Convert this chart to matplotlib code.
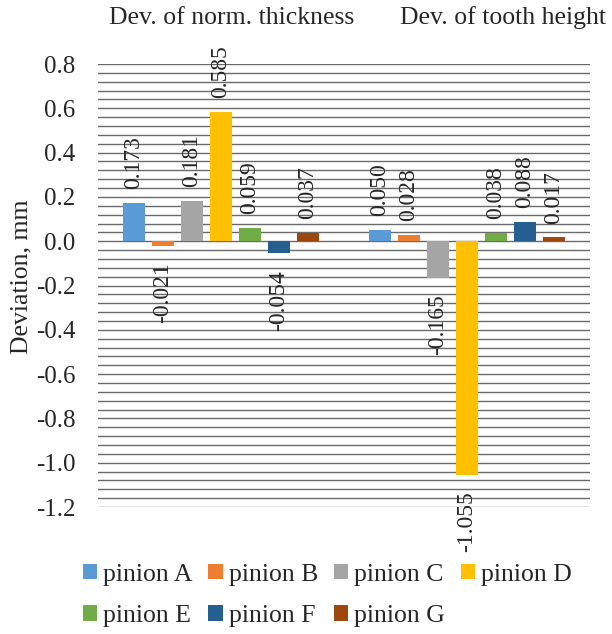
import matplotlib
matplotlib.use("Agg")
import matplotlib.pyplot as plt
import matplotlib.transforms as mtransforms
import numpy as np

categories = ["Dev. of norm. thickness", "Dev. of tooth height"]
series = ["pinion A", "pinion B", "pinion C", "pinion D", "pinion E", "pinion F", "pinion G"]
values = {
    "pinion A": [0.173, 0.050],
    "pinion B": [-0.021, 0.028],
    "pinion C": [0.181, -0.165],
    "pinion D": [0.585, -1.055],
    "pinion E": [0.059, 0.038],
    "pinion F": [-0.054, 0.088],
    "pinion G": [0.037, 0.017],
}
label_texts = {
    "pinion A": ["0.173", "0.050"],
    "pinion B": ["-0.021", "0.028"],
    "pinion C": ["0.181", "-0.165"],
    "pinion D": ["0.585", "-1.055"],
    "pinion E": ["0.059", "0.038"],
    "pinion F": ["-0.054", "0.088"],
    "pinion G": ["0.037", "0.017"],
}
colors = ["#5B9BD5", "#ED7D31", "#A5A5A5", "#FFC000", "#70AD47", "#255E91", "#9E480E"]
yticks = [0.8, 0.6, 0.4, 0.2, 0.0, -0.2, -0.4, -0.6, -0.8, -1.0, -1.2]
ytick_labels = ["0.8", "0.6", "0.4", "0.2", "0.0", "-0.2", "-0.4", "-0.6", "-0.8", "-1.0", "-1.2"]

FONT = "Liberation Serif"
plt.rcParams["font.family"] = [FONT, "DejaVu Serif"]

fig = plt.figure(figsize=(6.12, 6.34), dpi=100)
ax = fig.add_axes([0.160, 0.2003, 0.804, 0.6987])

x = np.arange(len(categories))
pitch = 0.118
width = 0.091
n = len(series)
handles = []
for i, (s, c) in enumerate(zip(series, colors)):
    xs = x + (i - (n - 1) / 2) * pitch
    vals = values[s]
    b = ax.bar(xs, vals, width=width, color=c, zorder=3, label=s)
    handles.append(b)
    for xi, v, t in zip(xs, vals, label_texts[s]):
        off = 10 if v >= 0 else -12
        ax.annotate(t, (xi, v), xytext=(0, off), textcoords="offset points",
                    rotation=90, ha="center", va="bottom" if v >= 0 else "top",
                    fontsize=17, color="#262626", zorder=4)

ax.set_xlim(-0.5, 1.5)
ax.set_ylim(-1.2, 0.8)
for g in np.arange(-1.2, 0.8001, 0.04):
    ax.axhline(g, color="#6a6a6a", lw=1.0, zorder=1)

ax.set_yticks(yticks)
ax.set_yticklabels(ytick_labels)
ax.tick_params(axis="y", length=0, pad=16, labelsize=18, labelcolor="#262626")
ax.set_xticks([])
for sp in ax.spines.values():
    sp.set_visible(False)

ax.set_ylabel("Deviation, mm", fontsize=18.5, color="#262626")
ax.yaxis.set_label_coords(-0.133, 0.52)

cat_offsets = [0.045, 1.146]
trans = mtransforms.blended_transform_factory(ax.transData, fig.transFigure)
for cx, name in zip(cat_offsets, categories):
    ax.text(cx, 0.972, name, transform=trans,
            ha="center", va="center", fontsize=18.5, color="#262626")

# row-wise legend order for 4 columns x 2 rows
order = [0, 4, 1, 5, 2, 6, 3]
fig.legend([handles[k] for k in order], [series[k] for k in order],
           loc="center", bbox_to_anchor=(0.535, 0.061), ncol=4,
           frameon=False, fontsize=18.5, handlelength=0.55, handleheight=0.55,
           handletextpad=0.25, columnspacing=0.6, labelspacing=0.75,
           labelcolor="#262626")

fig.savefig("out.png", dpi=100)
